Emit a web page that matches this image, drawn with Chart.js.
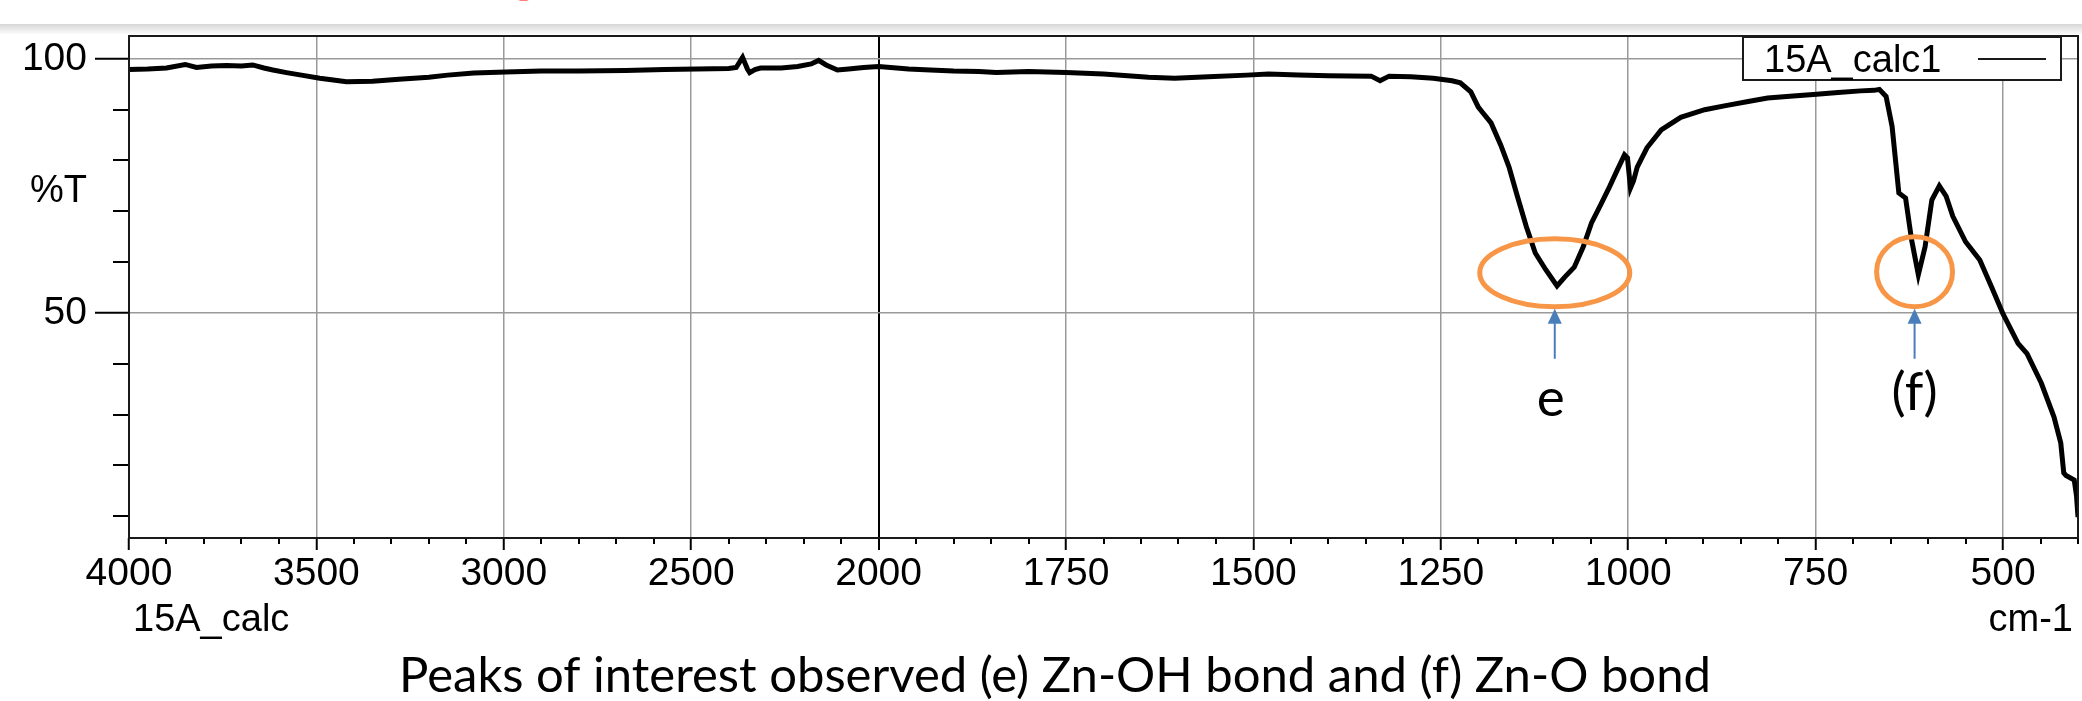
<!DOCTYPE html>
<html>
<head>
<meta charset="utf-8">
<script src="https://cdn.jsdelivr.net/npm/chart.js@4.4.1/dist/chart.umd.min.js"></script>
<style>
  html, body { margin: 0; padding: 0; background: #fff; }
  #wrap { width: 2082px; height: 701px; position: relative; }
</style>
</head>
<body>
<div id="wrap"><canvas id="ftirChart"></canvas></div>
<script>
// FTIR spectrum of sample 15A_calc
const wavenumbers = [
  4000, 3950, 3900, 3850, 3820, 3780, 3740, 3700, 3670, 3640, 3616, 3580, 3540, 3491, 3460, 3420,
  3350, 3280, 3200, 3150, 3080, 2995, 2900, 2800, 2675, 2571, 2485, 2400, 2380, 2363, 2350, 2344,
  2330, 2315, 2260, 2216, 2180, 2160, 2140, 2110, 2080, 2040, 2000,
  1960, 1931, 1900, 1866, 1843, 1800, 1750, 1700, 1640, 1605, 1560, 1509, 1480, 1440, 1400, 1343,
  1331, 1319, 1290, 1260, 1250, 1235, 1224, 1210, 1200, 1194, 1183, 1170, 1159, 1148, 1136, 1124,
  1110, 1095, 1085, 1072, 1060, 1049, 1037, 1025, 1015, 1005, 1001, 997, 993, 988, 975, 956, 930,
  898, 870, 840, 814, 780, 753, 720, 690, 672, 665, 656, 648, 639, 630, 622, 613, 604, 595, 585,
  576, 567, 550, 531, 515, 500, 480, 468, 449, 432, 423, 419, 416, 405, 402, 400
];
const transmittance = [
  97.9, 98.0, 98.2, 98.9, 98.3, 98.6, 98.7, 98.6, 98.8, 98.2, 97.8, 97.3, 96.8, 96.2, 95.9, 95.5,
  95.6, 96.0, 96.4, 96.8, 97.2, 97.4, 97.6, 97.6, 97.7, 97.9, 98.0, 98.1, 98.3, 100.3, 98.0, 97.3,
  97.9, 98.2, 98.2, 98.5, 99.0, 99.7, 98.8, 97.8, 98.0, 98.3, 98.5,
  98.0, 97.8, 97.6, 97.5, 97.3, 97.5, 97.3, 97.0, 96.4, 96.2, 96.5, 96.8, 97.0, 96.8, 96.7, 96.6,
  95.7, 96.6, 96.5, 96.2, 96.0, 95.7, 95.3, 93.5, 90.5, 89.4, 87.4, 83.0, 78.7, 73.0, 67.0, 61.8,
  58.5, 55.3, 57.0, 59.0, 63.0, 67.7, 71.2, 74.8, 78.0, 81.1, 80.5, 74.6, 76.0, 78.7, 82.5, 86.0, 88.5,
  90.0, 90.8, 91.6, 92.3, 92.7, 93.0, 93.4, 93.7, 93.8, 94.0, 92.6, 86.7, 73.6, 72.6, 64.4, 57.5, 63.0, 72.2, 75.0,
  73.0, 69.0, 64.0, 60.4, 55.0, 49.8, 44.0, 42.0, 36.2, 29.5, 24.4, 18.5, 18.0, 17.1, 14.0, 9.8
];
const xTickLabels = [4000, 3500, 3000, 2500, 2000, 1750, 1500, 1250, 1000, 750, 500];
const yTickLabels = [100, 50];
const yMinorTicks = [10, 20, 30, 40, 60, 70, 80, 90];
const peakNames = ['e', '(f)'];
const peakWavenumbers = [1098, 618];
const peakTransmittance = [57.9, 58.1];
const captionText = 'Peaks of interest observed (e) Zn-OH bond and (f) Zn-O bond';
const titleText = 'FTIR Reading of the ZnO sample (15A calcinated)';

// the instrument axis is compressed 2:1 above 2000 cm-1
function axisPos(wn) { return wn >= 2000 ? (4000 - wn) / 2 : 1000 + (2000 - wn); }
function wnFromPos(u) { return u <= 1000 ? 4000 - 2 * u : 2000 - (u - 1000); }

const axisFont = "'Liberation Sans', Arial, sans-serif";

const decor = {
  id: 'decor',
  beforeDraw(chart) {
    const c = chart.ctx;
    c.save();
    c.fillStyle = '#fff';
    c.fillRect(0, 0, chart.width, chart.height);
    const g = c.createLinearGradient(0, 24, 0, 34);
    g.addColorStop(0, '#d6d6d6');
    g.addColorStop(1, '#fbfbfb');
    c.fillStyle = g;
    c.fillRect(0, 24, chart.width, 10);
    // slide title, mostly cut off above the picture
    c.font = 'bold 56px Lato, sans-serif';
    c.fillStyle = '#ff0000';
    c.textBaseline = 'alphabetic';
    const pre = c.measureText('FTIR Reading of the ZnO sample ').width;
    c.fillText(titleText, 1026 - pre, -9);
    c.restore();
  },
  afterDraw(chart) {
    const c = chart.ctx;
    const a = chart.chartArea;
    const xs = chart.scales.x, ys = chart.scales.y;
    c.save();
    // minor ticks
    c.strokeStyle = '#000';
    c.lineWidth = 2;
    c.beginPath();
    for (let w = 3900; w > 2000; w -= 100) {
      if (xTickLabels.includes(w)) continue;
      const px = Math.round(xs.getPixelForValue(axisPos(w)));
      c.moveTo(px, a.bottom); c.lineTo(px, a.bottom + 6);
    }
    for (let w = 1950; w >= 400; w -= 50) {
      if (xTickLabels.includes(w)) continue;
      const px = Math.min(Math.round(xs.getPixelForValue(axisPos(w))), a.right);
      c.moveTo(px, a.bottom); c.lineTo(px, a.bottom + 6);
    }
    yMinorTicks.forEach(v => {
      const py = Math.round(ys.getPixelForValue(v));
      c.moveTo(a.left - 16, py); c.lineTo(a.left, py);
    });
    c.stroke();
    // plot frame
    c.strokeStyle = '#1a1a1a';
    c.lineWidth = 2;
    c.strokeRect(a.left, a.top, a.right - a.left, a.bottom - a.top);
    // legend box
    c.fillStyle = '#fff';
    c.fillRect(1743, 37, 318, 43);
    c.strokeRect(1743, 37, 318, 43);
    c.fillStyle = '#000';
    c.font = '38px ' + axisFont;
    c.textAlign = 'left';
    c.textBaseline = 'alphabetic';
    c.fillText(chart.data.datasets[0].label, 1764, 72);
    c.beginPath();
    c.moveTo(1978, 59); c.lineTo(2046, 59);
    c.stroke();
    // axis side texts
    c.textAlign = 'right';
    c.fillText('%T', 87, 202);
    c.fillText('cm-1', 2073, 631);
    c.textAlign = 'left';
    c.fillText('15A_calc', 133, 631);
    // peak markers
    const rx = [75, 38], ry = [34, 35];
    peakWavenumbers.forEach((w, i) => {
      const px = xs.getPixelForValue(axisPos(w));
      const py = ys.getPixelForValue(peakTransmittance[i]);
      c.strokeStyle = '#f79646';
      c.lineWidth = 5;
      c.beginPath();
      c.ellipse(px, py, rx[i], ry[i], 0, 0, Math.PI * 2);
      c.stroke();
      const tip = py + ry[i] + 2;
      c.strokeStyle = '#4a7ebb';
      c.fillStyle = '#4a7ebb';
      c.lineWidth = 2;
      c.beginPath();
      c.moveTo(px, tip + 12); c.lineTo(px, tip + 50);
      c.stroke();
      c.beginPath();
      c.moveTo(px, tip); c.lineTo(px - 7, tip + 15); c.lineTo(px + 7, tip + 15);
      c.closePath();
      c.fill();
      c.fillStyle = '#000';
      c.font = '53px Lato, sans-serif';
      c.textAlign = 'center';
      c.fillText(peakNames[i], px - (i === 0 ? 4 : 0), i === 0 ? 416 : 410);
    });
    // caption
    c.fillStyle = '#000';
    c.font = '49px Lato, sans-serif';
    c.textAlign = 'center';
    c.fillText(captionText, 1055, 692);
    c.restore();
  }
};

const ctx = document.getElementById('ftirChart').getContext('2d');
const ftirChart = new Chart(ctx, {
  type: 'line',
  data: {
    datasets: [{
      label: '15A_calc1',
      data: wavenumbers.map((w, i) => ({ x: axisPos(w), y: transmittance[i] })),
      borderColor: '#000',
      borderWidth: 5,
      pointRadius: 0,
      tension: 0,
      fill: false
    }]
  },
  options: {
    responsive: true,
    maintainAspectRatio: false,
    animation: false,
    layout: { padding: { top: 36, right: 4, bottom: 0, left: 0 } },
    plugins: { legend: { display: false }, tooltip: { enabled: false } },
    scales: {
      x: {
        type: 'linear',
        min: 0,
        max: 2600,
        afterBuildTicks: s => { s.ticks = xTickLabels.map(w => ({ value: axisPos(w) })); },
        afterFit: s => { s.height = 163; },
        ticks: {
          font: { family: axisFont, size: 39 },
          color: '#000',
          padding: 1,
          maxRotation: 0,
          autoSkip: false,
          callback: v => String(wnFromPos(v))
        },
        grid: {
          color: c => (c.tick && c.tick.value === 1000 ? '#000' : '#9a9a9a'),
          lineWidth: c => (c.tick && c.tick.value === 1000 ? 2 : 1.5),
          tickLength: 12,
          tickColor: '#000',
          tickWidth: 2
        },
        border: { display: false }
      },
      y: {
        min: 5.7,
        max: 104.5,
        afterBuildTicks: s => { s.ticks = yTickLabels.map(v => ({ value: v })); },
        afterFit: s => { s.width = 129; },
        ticks: {
          font: { family: axisFont, size: 39 },
          color: '#000',
          padding: 8,
          callback: v => String(v)
        },
        grid: {
          color: '#9a9a9a',
          lineWidth: 1.5,
          tickLength: 34,
          tickColor: '#000',
          tickWidth: 2
        },
        border: { display: false }
      }
    }
  },
  plugins: [decor]
});
</script>
</body>
</html>
